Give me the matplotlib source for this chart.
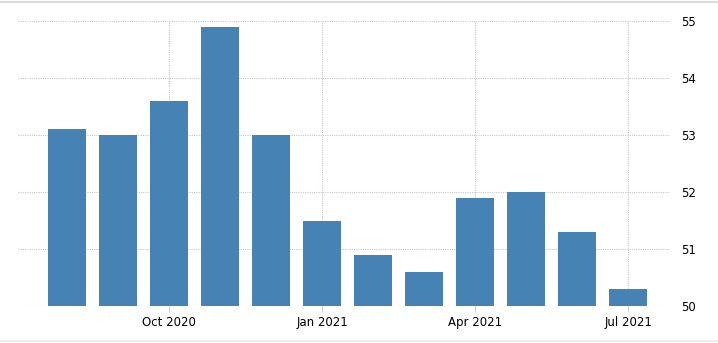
import matplotlib
matplotlib.use("Agg")
import matplotlib.pyplot as plt
from matplotlib.lines import Line2D

months = ["Aug 2020", "Sep 2020", "Oct 2020", "Nov 2020", "Dec 2020", "Jan 2021",
          "Feb 2021", "Mar 2021", "Apr 2021", "May 2021", "Jun 2021", "Jul 2021"]
values = [53.1, 53.0, 53.6, 54.9, 53.0, 51.5, 50.9, 50.6, 51.9, 52.0, 51.3, 50.3]
xtick_labels = ["Oct 2020", "Jan 2021", "Apr 2021", "Jul 2021"]
yticks = [50, 51, 52, 53, 54, 55]

W, H = 718, 343
fig = plt.figure(figsize=(W / 100, H / 100), dpi=100)
left, right, top, bottom = 18, 670, 21, 306
ax = fig.add_axes([left / W, 1 - bottom / H, (right - left) / W, (bottom - top) / H])

x = list(range(len(months)))
ax.bar(x, [v - 50 for v in values], bottom=50, width=0.75, color="#4682B4", zorder=3)

ax.set_xlim(-0.96, 11.82)
ax.set_ylim(50, 55)
ax.set_xticks([months.index(m) for m in xtick_labels])
ax.set_xticklabels(xtick_labels)
ax.set_yticks(yticks)
ax.set_yticklabels([str(t) for t in yticks])
ax.yaxis.tick_right()
ax.tick_params(axis="y", length=0, pad=8, labelsize=8.5, colors="#000000")
ax.tick_params(axis="x", length=4, color="#cccccc", pad=3, labelsize=8.5)
for s in ax.spines.values():
    s.set_visible(False)
ax.grid(True, color="#c8c8c8", linestyle=(0, (1, 1)), linewidth=0.8, zorder=0)
ax.set_axisbelow(True)

fig.add_artist(Line2D([0, 1], [1 - 1.5 / H, 1 - 1.5 / H], color="#dddddd", lw=1.5))
fig.add_artist(Line2D([0, 1], [1 - 341 / H, 1 - 341 / H], color="#eeeeee", lw=1.5))

fig.savefig("out.png", dpi=100)
